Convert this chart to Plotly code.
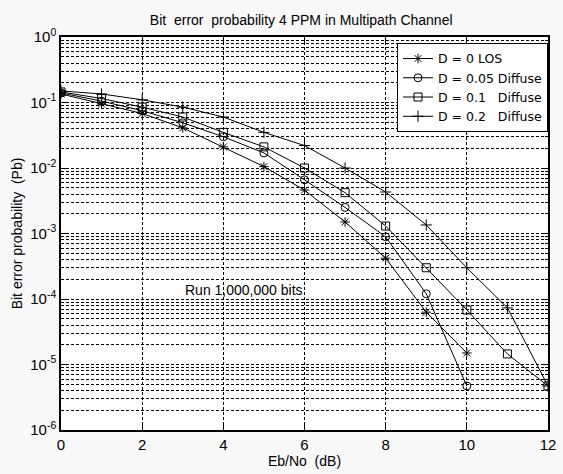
import plotly.graph_objects as go

ebno = [0, 1, 2, 3, 4, 5, 6, 7, 8, 9, 10, 11, 12]
los_x = [0, 1, 2, 3, 4, 5, 6, 7, 8, 9, 10]
los_pb = [1.35e-1, 9.5e-2, 6.8e-2, 4.1e-2, 2.1e-2, 1.05e-2, 4.6e-3, 1.5e-3, 4.2e-4, 6.3e-5, 1.5e-5]
d005_x = [0, 1, 2, 3, 4, 5, 6, 7, 8, 9, 10]
d005_pb = [1.4e-1, 1.05e-1, 7.5e-2, 4.9e-2, 3.0e-2, 1.7e-2, 6.6e-3, 2.5e-3, 8.9e-4, 1.2e-4, 4.7e-6]
d01_pb = [1.45e-1, 1.15e-1, 8.5e-2, 6.0e-2, 3.5e-2, 2.1e-2, 1.0e-2, 4.2e-3, 1.3e-3, 3.0e-4, 6.8e-5, 1.45e-5, 4.7e-6]
d02_pb = [1.5e-1, 1.35e-1, 1.1e-1, 8.5e-2, 6.0e-2, 3.5e-2, 2.2e-2, 1.0e-2, 4.3e-3, 1.35e-3, 3.0e-4, 7.3e-5, 4.7e-6]

names = ["D = 0 LOS", "D = 0.05 Diffuse", "D = 0.1   Diffuse", "D = 0.2   Diffuse"]
symbols = ["asterisk-open", "circle-open", "square-open", "cross-thin-open"]

y_tickvals = [1e-6, 1e-5, 1e-4, 1e-3, 1e-2, 1e-1, 1e0]
y_ticktext = ["10<sup>-6</sup>", "10<sup>-5</sup>", "10<sup>-4</sup>", "10<sup>-3</sup>",
              "10<sup>-2</sup>", "10<sup>-1</sup>", "10<sup>0</sup>"]
x_tickvals = [0, 2, 4, 6, 8, 10, 12]

minor_vals = [m * 10.0 ** e for e in range(-6, 0) for m in range(2, 10)]

series = [(los_x, los_pb), (d005_x, d005_pb), (ebno, d01_pb), (ebno, d02_pb)]

fig = go.Figure()
for (xs, ys), nm, sym in zip(series, names, symbols):
    fig.add_trace(go.Scatter(
        x=xs, y=ys, name=nm, mode="lines+markers",
        line=dict(color="black", width=1),
        marker=dict(symbol=sym, size=8, color="black", line=dict(color="black", width=1)),
    ))

fig.add_annotation(x=4.5, y=-3.86, xref="x", yref="y", text="Run 1,000,000 bits",
                   showarrow=False, font=dict(size=14, color="black"))

font_family = "Liberation Sans, Arial, sans-serif"
grid_dash = "3px,2px"
fig.update_layout(
    width=563, height=474,
    margin=dict(l=61, r=7, t=37, b=44),
    paper_bgcolor="#f8f8f8", plot_bgcolor="white",
    font=dict(family=font_family, size=13, color="black"),
    title=dict(text="Bit  error  probability 4 PPM in Multipath Channel",
               x=0.535, xanchor="center", y=0.958, yanchor="middle", font=dict(size=14)),
    showlegend=True,
    legend=dict(x=1.0, y=0.985, xanchor="right", yanchor="top", bgcolor="white",
                bordercolor="black", borderwidth=1,
                font=dict(family="DejaVu Sans, sans-serif", size=12.5),
                tracegroupgap=0, itemwidth=30),
)
fig.update_xaxes(
    range=[0, 12], tickmode="array", tickvals=x_tickvals,
    showline=True, linecolor="black", linewidth=1.5, mirror="ticks",
    ticks="inside", ticklen=5, tickcolor="black",
    showgrid=True, gridcolor="black", griddash=grid_dash, gridwidth=1,
    zeroline=False,
    title=dict(text="Eb/No  (dB)", standoff=2, font=dict(size=14)),
    tickfont=dict(size=15),
)
fig.update_yaxes(
    type="log", range=[-6, 0], tickmode="array", tickvals=y_tickvals, ticktext=y_ticktext,
    showline=True, linecolor="black", linewidth=1.5, mirror="ticks",
    ticks="inside", ticklen=5, tickcolor="black",
    showgrid=True, gridcolor="black", griddash=grid_dash, gridwidth=1,
    minor=dict(tickmode="array", tickvals=minor_vals, showgrid=True, gridcolor="black",
               griddash=grid_dash, gridwidth=1, ticks="inside", ticklen=3, tickcolor="black"),
    title=dict(text="Bit error probability  (Pb)", standoff=4, font=dict(size=14)),
    tickfont=dict(size=15),
)

fig.write_html("out.html", config={"displayModeBar": False},
               post_script="document.body.style.margin='0';")
